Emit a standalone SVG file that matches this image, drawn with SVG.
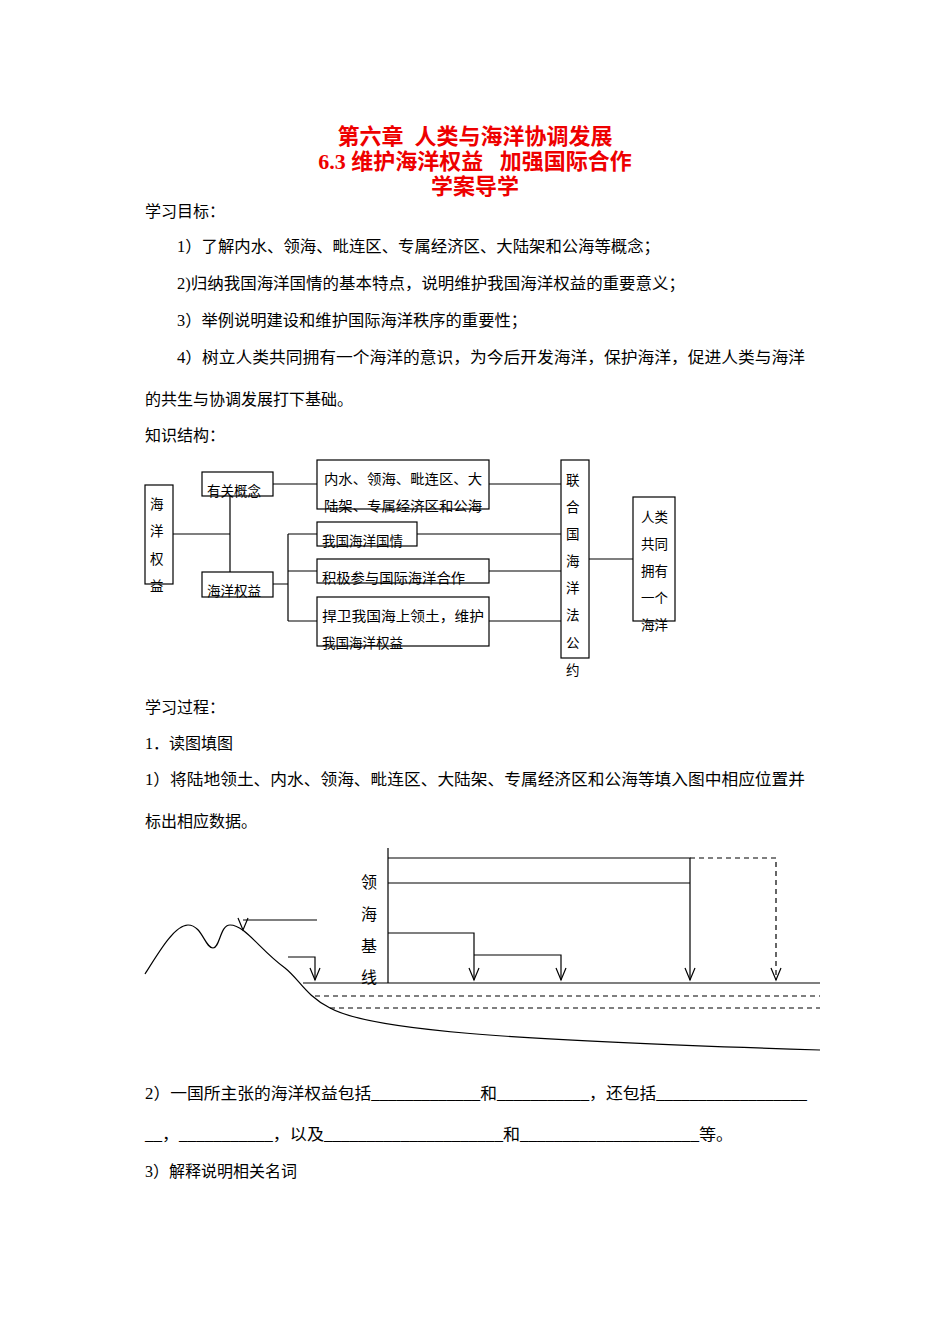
<svg xmlns="http://www.w3.org/2000/svg" width="950" height="1344" viewBox="0 0 950 1344">
<style>
.t{font-family:"Liberation Serif","Noto Sans CJK SC",serif;font-size:16px;fill:#000}
.d{font-family:"Liberation Serif","Noto Sans CJK SC",serif;font-size:13.5px;fill:#000}
.h{font-family:"Liberation Serif","Noto Sans CJK SC",serif;font-size:22px;font-weight:bold;fill:#e00;text-anchor:middle}
.b{fill:#fff;stroke:#000;stroke-width:1.2}
.l{stroke:#000;stroke-width:1.2;fill:none}
.ds{stroke:#000;stroke-width:1.2;fill:none;stroke-dasharray:5,4}
</style>
<rect width="950" height="1344" fill="#fff"/>
<text class="h" x="475" y="144" xml:space="preserve">第六章  人类与海洋协调发展</text>
<text class="h" x="475" y="169" xml:space="preserve">6.3 维护海洋权益   加强国际合作</text>
<text class="h" x="475" y="194">学案导学</text>
<text class="t" x="145" y="217">学习目标：</text>
<text class="t" x="177" y="252" textLength="483" lengthAdjust="spacingAndGlyphs">1）了解内水、领海、毗连区、专属经济区、大陆架和公海等概念；</text>
<text class="t" x="177" y="289" textLength="508" lengthAdjust="spacingAndGlyphs">2)归纳我国海洋国情的基本特点，说明维护我国海洋权益的重要意义；</text>
<text class="t" x="177" y="326" textLength="350" lengthAdjust="spacingAndGlyphs">3）举例说明建设和维护国际海洋秩序的重要性；</text>
<text class="t" x="177" y="363" textLength="628" lengthAdjust="spacingAndGlyphs">4）树立人类共同拥有一个海洋的意识，为今后开发海洋，保护海洋，促进人类与海洋</text>
<text class="t" x="145" y="405">的共生与协调发展打下基础。</text>
<text class="t" x="145" y="441">知识结构：</text>
<g id="connectors1">
<path class="l" d="M173,534H230M230,496V572M273,484H317M489,484H561M273,584H288M288,534V621M288,534H317M288,571H317M288,621H317M417,534H561M489,571H561M489,621H561M589,559H633"/>
</g>
<g id="n1"><rect class="b" x="145" y="485" width="28" height="99"/><text class="d" x="150" y="509">海</text><text class="d" x="150" y="536">洋</text><text class="d" x="150" y="564">权</text><text class="d" x="150" y="591">益</text></g>
<g id="n2"><rect class="b" x="202" y="472" width="71" height="24"/><text class="d" x="207" y="496">有关概念</text></g>
<g id="n3"><rect class="b" x="202" y="572" width="71" height="25"/><text class="d" x="207" y="596">海洋权益</text></g>
<g id="n4"><rect class="b" x="317" y="460" width="172" height="49"/><text class="d" x="324" y="484" textLength="158" lengthAdjust="spacingAndGlyphs">内水、领海、毗连区、大</text><text class="d" x="324" y="511" textLength="158" lengthAdjust="spacingAndGlyphs">陆架、专属经济区和公海</text></g>
<g id="n5"><rect class="b" x="317" y="522" width="100" height="24"/><text class="d" x="322" y="546">我国海洋国情</text></g>
<g id="n6"><rect class="b" x="317" y="559" width="172" height="24"/><text class="d" x="322" y="583" textLength="143" lengthAdjust="spacingAndGlyphs">积极参与国际海洋合作</text></g>
<g id="n7"><rect class="b" x="317" y="597" width="172" height="49"/><text class="d" x="322" y="621" textLength="162" lengthAdjust="spacingAndGlyphs">捍卫我国海上领土，维护</text><text class="d" x="322" y="648">我国海洋权益</text></g>
<g id="n8"><rect class="b" x="561" y="460" width="28" height="198"/>
<text class="d" x="566" y="485">联</text><text class="d" x="566" y="512">合</text><text class="d" x="566" y="539">国</text><text class="d" x="566" y="566">海</text><text class="d" x="566" y="593">洋</text><text class="d" x="566" y="620">法</text><text class="d" x="566" y="648">公</text><text class="d" x="566" y="675">约</text></g>
<g id="n9"><rect class="b" x="633" y="497" width="42" height="124"/>
<text class="d" x="641" y="522">人类</text><text class="d" x="641" y="549">共同</text><text class="d" x="641" y="576">拥有</text><text class="d" x="641" y="603">一个</text><text class="d" x="641" y="630">海洋</text></g>
<text class="t" x="145" y="713">学习过程：</text>
<text class="t" x="145" y="749">1．读图填图</text>
<text class="t" x="145" y="785" textLength="660" lengthAdjust="spacingAndGlyphs">1）将陆地领土、内水、领海、毗连区、大陆架、专属经济区和公海等填入图中相应位置并</text>
<text class="t" x="145" y="827">标出相应数据。</text>
<g id="map">
<path class="l" d="M145,974C160,950 175,925 188,925C202,925 205,948 213,948C220,948 220,925 230,925C245,925 260,950 285,968C300,980 305,995 330,1008C370,1030 500,1040 820,1050"/>
<path class="l" stroke-width="1.5" d="M303,983H820"/>
<path class="ds" d="M315,996H820M330,1008H820"/>
<path class="l" d="M388,848V983M388,858H690V980M388,883H690M388,933H474V980M474,955H561V980M243,920H317M288,957H315V980"/>
<path class="ds" d="M690,858H776V980"/>
<path class="l" stroke-width="2" d="M238,918L243,930L248,918M310,968L315,980L320,968M469,968L474,980L479,968M556,968L561,980L566,968M685,968L690,980L695,968M771,968L776,980L781,968"/>
<text class="t" x="361" y="888">领</text><text class="t" x="361" y="920">海</text><text class="t" x="361" y="952">基</text><text class="t" x="361" y="983">线</text>
</g>
<text class="t" x="145" y="1099" textLength="662" lengthAdjust="spacingAndGlyphs">2）一国所主张的海洋权益包括_____________和___________，还包括__________________</text>
<text class="t" x="145" y="1140" textLength="588" lengthAdjust="spacingAndGlyphs">__，___________，以及_____________________和_____________________等。</text>
<text class="t" x="145" y="1177">3）解释说明相关名词</text>
</svg>
